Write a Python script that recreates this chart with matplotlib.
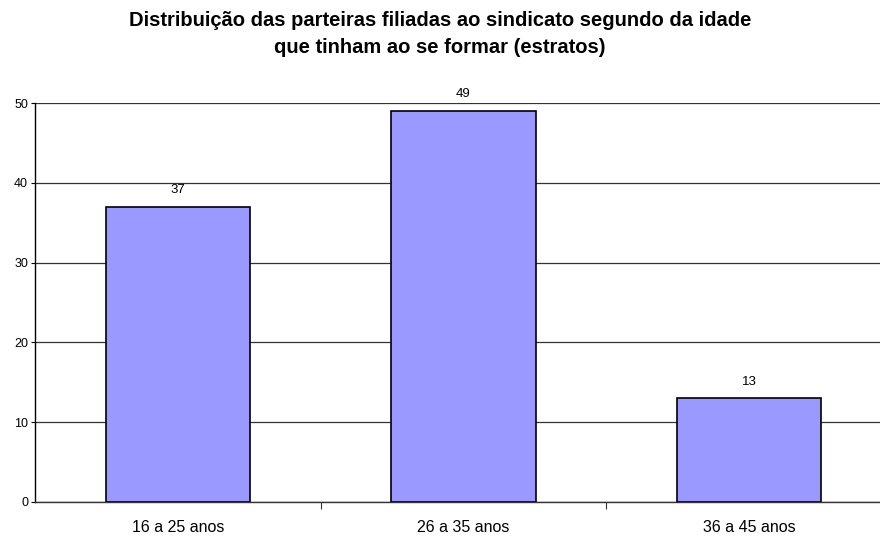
import matplotlib
matplotlib.use("Agg")
import matplotlib.pyplot as plt

plt.rcParams['font.family'] = ['Liberation Sans', 'DejaVu Sans']

categories = ["16 a 25 anos", "26 a 35 anos", "36 a 45 anos"]
values = [37, 49, 13]
y_ticks = [0, 10, 20, 30, 40, 50]
title = "Distribuição das parteiras filiadas ao sindicato segundo da idade\nque tinham ao se formar (estratos)"

fig = plt.figure(figsize=(8.8, 5.36), dpi=100)
# plot area runs past the right edge of the figure, as in the original sheet export
ax = fig.add_axes([35/880, 34/536, 857/880, 399/536])

x = list(range(len(categories)))
ax.bar(x, values, width=0.505, color="#9999FF", edgecolor="black", linewidth=1.2, zorder=3)

for xi, v in zip(x, values):
    ax.annotate(f"{v}", xy=(xi, v), xytext=(0, 12), textcoords="offset points",
                ha="center", va="center", fontsize=9.5, color="black")

ax.set_xlim(-0.5, len(categories) - 0.5)
ax.set_ylim(0, 50)
ax.set_yticks(y_ticks)
ax.set_yticklabels([str(t) for t in y_ticks], fontsize=9)
ax.yaxis.grid(True, color="#333333", linewidth=0.9, zorder=0)

ax.set_xticks([0.5, 1.5, 2.5], minor=False)
ax.set_xticklabels([])
ax.set_xticks(x, minor=True)
ax.set_xticklabels(categories, minor=True, fontsize=11.5)
ax.tick_params(axis="x", which="major", length=5, width=0.8, color="#333333")
ax.tick_params(axis="x", which="minor", length=0, pad=13)
ax.tick_params(axis="y", length=3, width=0.8, pad=2)

for side in ("top", "right"):
    ax.spines[side].set_visible(False)
ax.spines["left"].set_linewidth(1.0)
ax.spines["bottom"].set_linewidth(1.0)
ax.spines["bottom"].set_color("#333333")

fig.text(0.5, 1 - 34/536, title, ha="center", va="center", fontsize=14.5,
         fontweight="bold", linespacing=1.57)

fig.savefig("out.png", dpi=100)
